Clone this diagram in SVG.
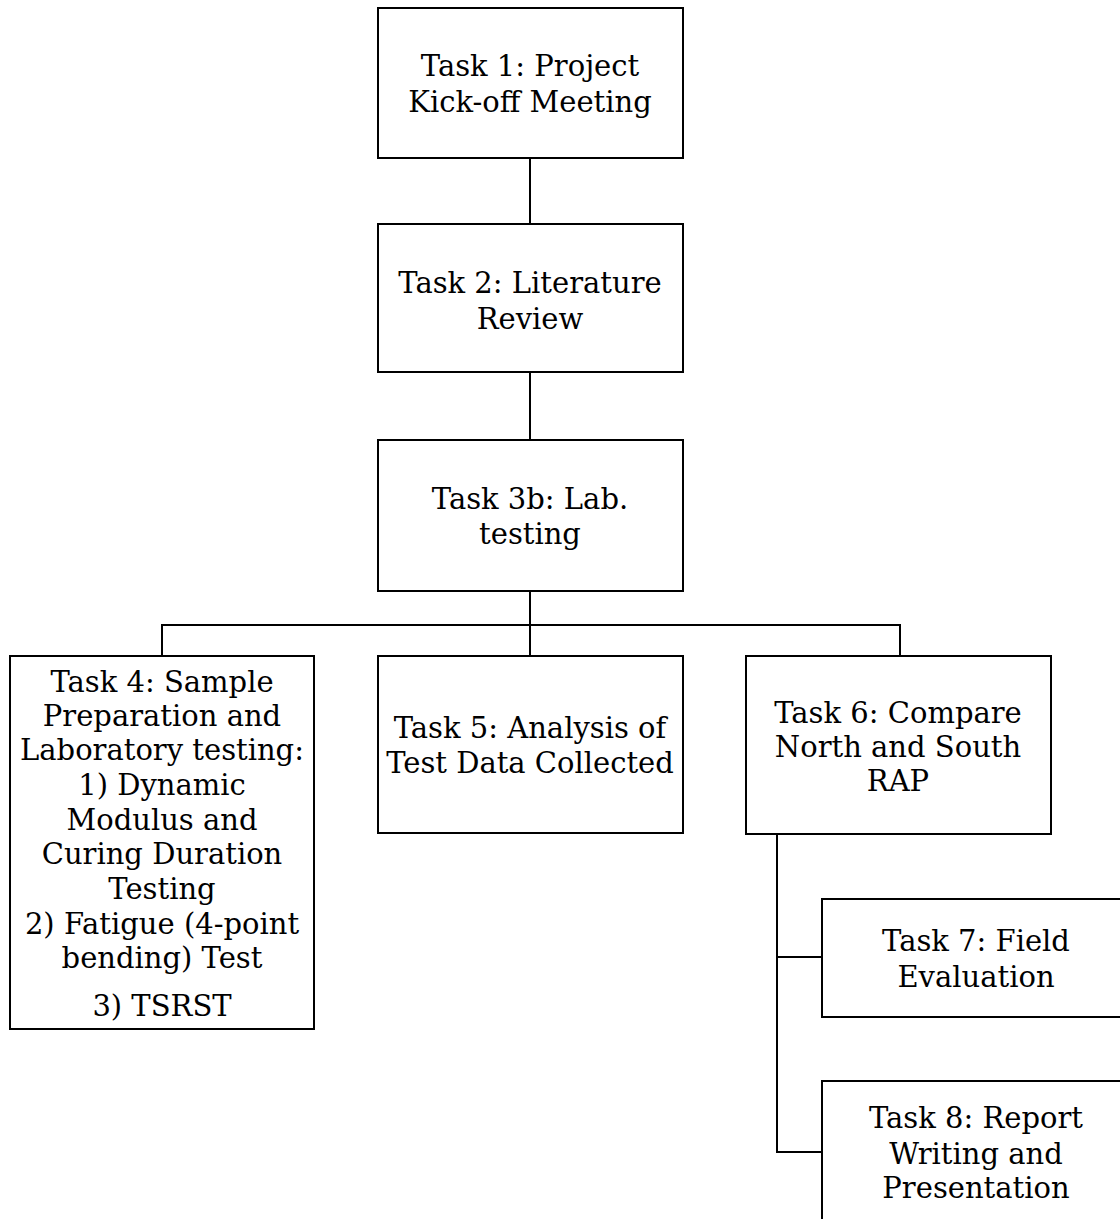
<svg xmlns="http://www.w3.org/2000/svg" width="1120" height="1219" viewBox="0 0 1120 1219">
<style>
rect{fill:#fff;stroke:#000;stroke-width:2}
.c line{stroke:#000;stroke-width:2}
text{font-family:"DejaVu Serif","Liberation Serif",serif;font-size:29px;fill:#000;text-anchor:middle}
</style>
<rect x="0" y="0" width="1120" height="1219" style="stroke:none"/>
<g class="c" id="connectors">
<line x1="530" y1="158" x2="530" y2="224"/>
<line x1="530" y1="372" x2="530" y2="440"/>
<line x1="530" y1="591" x2="530" y2="656"/>
<line x1="161" y1="625" x2="901" y2="625"/>
<line x1="162" y1="624" x2="162" y2="656"/>
<line x1="900" y1="624" x2="900" y2="656"/>
<line x1="777" y1="834" x2="777" y2="1153"/>
<line x1="776" y1="957" x2="822" y2="957"/>
<line x1="776" y1="1152" x2="822" y2="1152"/>
</g>
<g id="task1"><rect x="378" y="8" width="305" height="150"/>
<text x="530" y="76">Task 1: Project</text><text x="530" y="112">Kick-off Meeting</text></g>
<g id="task2"><rect x="378" y="224" width="305" height="148"/>
<text x="530" y="293">Task 2: Literature</text><text x="530" y="329">Review</text></g>
<g id="task3b"><rect x="378" y="440" width="305" height="151"/>
<text x="530" y="509">Task 3b: Lab.</text><text x="530" y="544">testing</text></g>
<g id="task4"><rect x="10" y="656" width="304" height="373"/>
<text x="162" y="692">Task 4: Sample</text>
<text x="162" y="726">Preparation and</text>
<text x="162" y="760">Laboratory testing:</text>
<text x="162" y="795">1) Dynamic</text>
<text x="162" y="830">Modulus and</text>
<text x="162" y="864">Curing Duration</text>
<text x="162" y="899">Testing</text>
<text x="162" y="934">2) Fatigue (4-point</text>
<text x="162" y="968">bending) Test</text>
<text x="162" y="1016">3) TSRST</text></g>
<g id="task5"><rect x="378" y="656" width="305" height="177"/>
<text x="530" y="738">Task 5: Analysis of</text><text x="530" y="773">Test Data Collected</text></g>
<g id="task6"><rect x="746" y="656" width="305" height="178"/>
<text x="898" y="723">Task 6: Compare</text><text x="898" y="757">North and South</text><text x="898" y="791">RAP</text></g>
<g id="task7"><rect x="822" y="899" width="310" height="118"/>
<text x="976" y="951">Task 7: Field</text><text x="976" y="987">Evaluation</text></g>
<g id="task8"><rect x="822" y="1081" width="310" height="160"/>
<text x="976" y="1128">Task 8: Report</text><text x="976" y="1164">Writing and</text><text x="976" y="1198">Presentation</text></g>
</svg>
